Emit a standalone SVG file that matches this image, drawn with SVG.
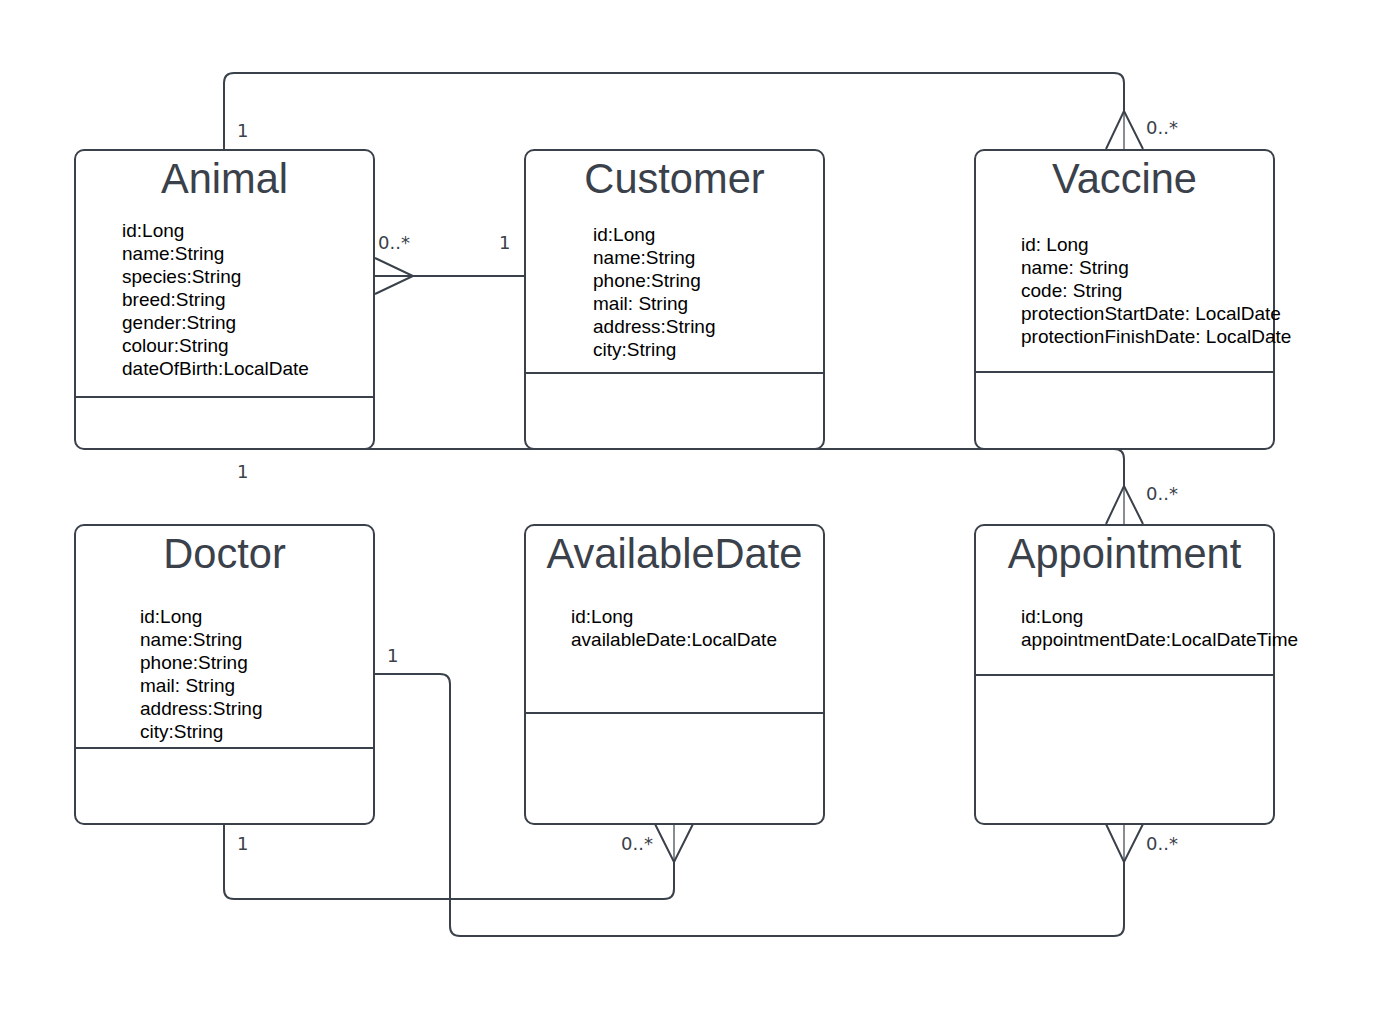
<svg xmlns="http://www.w3.org/2000/svg" width="1388" height="1014" viewBox="0 0 1388 1014">
<style>
.box{fill:#fff;stroke:#3a414a;stroke-width:2}
.div{stroke:#3a414a;stroke-width:2}
.title{font-family:"Liberation Sans",Arial,sans-serif;font-size:41.6px;fill:#3a414a;text-anchor:middle}
.attr{font-family:"Liberation Sans",Arial,sans-serif;font-size:19px;fill:#000}
.lbl{font-family:"DejaVu Sans",sans-serif;font-size:18px;fill:#3a414a}
.ln{fill:none;stroke:#3a414a;stroke-width:2}
.thin{fill:none;stroke:#3a414a;stroke-width:1.2}
</style>
<rect width="1388" height="1014" fill="#fff"/>
<g id="connectors">
<path class="ln" d="M224,149 V83 Q224,73 234,73 H1114 Q1124,73 1124,83 V111"/>
<path class="ln" d="M1106,149 L1124,111 L1143,149"/>
<path class="thin" d="M1124,111 V149"/>
<path class="ln" d="M375,276 H524"/>
<path class="ln" d="M375,258 L413,276 L375,294"/>
<path class="ln" d="M215,449 H1114 Q1124,449 1124,459 V486"/>
<path class="ln" d="M1106,524 L1124,486 L1143,524"/>
<path class="thin" d="M1124,486 V524"/>
<path class="ln" d="M224,825 V889 Q224,899 234,899 H664 Q674,899 674,889 V862"/>
<path class="ln" d="M655,824 L674,862 L693,824"/>
<path class="thin" d="M674,862 V824"/>
<path class="ln" d="M375,674 H440 Q450,674 450,684 V926 Q450,936 460,936 H1114 Q1124,936 1124,926 V862"/>
<path class="ln" d="M1106,824 L1124,862 L1143,824"/>
<path class="thin" d="M1124,862 V824"/>
<text class="lbl" x="237" y="137">1</text>
<text class="lbl" x="1146" y="134">0..*</text>
<text class="lbl" x="378" y="249">0..*</text>
<text class="lbl" x="499" y="249">1</text>
<text class="lbl" x="237" y="478">1</text>
<text class="lbl" x="1146" y="500">0..*</text>
<text class="lbl" x="387" y="662">1</text>
<text class="lbl" x="237" y="850">1</text>
<text class="lbl" x="621" y="850">0..*</text>
<text class="lbl" x="1146" y="850">0..*</text>
</g>
<g id="animal">
<rect class="box" x="75" y="150" width="299" height="299" rx="9"/>
<line class="div" x1="75" y1="397" x2="374" y2="397"/>
<text class="title" x="224.5" y="193">Animal</text>
<text class="attr" x="122" y="237">id:Long</text>
<text class="attr" x="122" y="260">name:String</text>
<text class="attr" x="122" y="283">species:String</text>
<text class="attr" x="122" y="306">breed:String</text>
<text class="attr" x="122" y="329">gender:String</text>
<text class="attr" x="122" y="352">colour:String</text>
<text class="attr" x="122" y="375">dateOfBirth:LocalDate</text>
</g>
<g id="customer">
<rect class="box" x="525" y="150" width="299" height="299" rx="9"/>
<line class="div" x1="525" y1="373" x2="824" y2="373"/>
<text class="title" x="674.5" y="193">Customer</text>
<text class="attr" x="593" y="241">id:Long</text>
<text class="attr" x="593" y="264">name:String</text>
<text class="attr" x="593" y="287">phone:String</text>
<text class="attr" x="593" y="310">mail: String</text>
<text class="attr" x="593" y="333">address:String</text>
<text class="attr" x="593" y="356">city:String</text>
</g>
<g id="vaccine">
<rect class="box" x="975" y="150" width="299" height="299" rx="9"/>
<line class="div" x1="975" y1="372" x2="1274" y2="372"/>
<text class="title" x="1124.5" y="193">Vaccine</text>
<text class="attr" x="1021" y="251">id: Long</text>
<text class="attr" x="1021" y="274">name: String</text>
<text class="attr" x="1021" y="297">code: String</text>
<text class="attr" x="1021" y="320">protectionStartDate: LocalDate</text>
<text class="attr" x="1021" y="343">protectionFinishDate: LocalDate</text>
</g>
<g id="doctor">
<rect class="box" x="75" y="525" width="299" height="299" rx="9"/>
<line class="div" x1="75" y1="748" x2="374" y2="748"/>
<text class="title" x="224.5" y="568">Doctor</text>
<text class="attr" x="140" y="623">id:Long</text>
<text class="attr" x="140" y="646">name:String</text>
<text class="attr" x="140" y="669">phone:String</text>
<text class="attr" x="140" y="692">mail: String</text>
<text class="attr" x="140" y="715">address:String</text>
<text class="attr" x="140" y="738">city:String</text>
</g>
<g id="availabledate">
<rect class="box" x="525" y="525" width="299" height="299" rx="9"/>
<line class="div" x1="525" y1="713" x2="824" y2="713"/>
<text class="title" x="674.5" y="568">AvailableDate</text>
<text class="attr" x="571" y="623">id:Long</text>
<text class="attr" x="571" y="646">availableDate:LocalDate</text>
</g>
<g id="appointment">
<rect class="box" x="975" y="525" width="299" height="299" rx="9"/>
<line class="div" x1="975" y1="675" x2="1274" y2="675"/>
<text class="title" x="1124.5" y="568">Appointment</text>
<text class="attr" x="1021" y="623">id:Long</text>
<text class="attr" x="1021" y="646">appointmentDate:LocalDateTime</text>
</g>
</svg>
